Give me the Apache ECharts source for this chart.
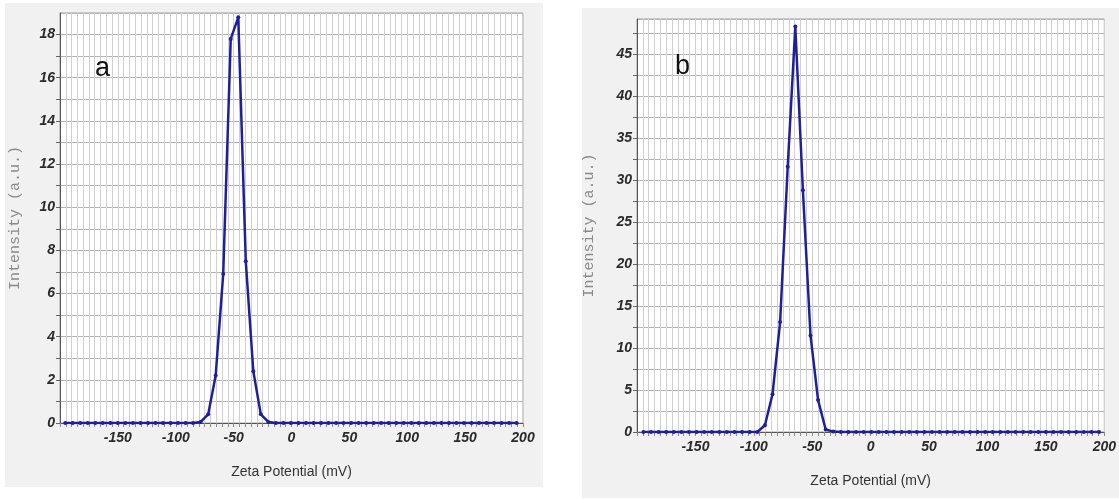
<!DOCTYPE html>
<html>
<head>
<meta charset="utf-8">
<script src="https://cdn.jsdelivr.net/npm/echarts@6/dist/echarts.min.js"></script>
<style>
  html, body { margin: 0; padding: 0; background: #fff; }
  #zeta_chart { width: 1119px; height: 499px; }
</style>
</head>
<body>
<div id="zeta_chart"></div>
<script>
// zeta potential (mV) and intensity (a.u.)
let zetaA = [-195.5, -189, -182.5, -176, -169.5, -163, -156.5, -150, -143.5, -137, -130.5, -124,
    -117.5, -111, -104.5, -98, -91.5, -85, -78.5, -72, -65.5, -59, -52.5, -46, -39.5, -33, -26.5,
    -20, -13.5, -7, -0.5, 6, 12.5, 19, 25.5, 32, 38.5, 45, 51.5, 58, 64.5, 71, 77.5, 84, 90.5, 97,
    103.5, 110, 116.5, 123, 129.5, 136, 142.5, 149, 155.5, 162, 168.5, 175, 181.5, 188, 194.5];
let intensityA = [0, 0, 0, 0, 0, 0, 0, 0, 0, 0, 0, 0,
    0, 0, 0, 0, 0, 0, 0.05, 0.4, 2.2, 6.9, 17.8, 18.8, 7.5, 2.4, 0.4,
    0.05, 0, 0, 0, 0, 0, 0, 0, 0, 0, 0, 0, 0, 0, 0, 0, 0, 0, 0,
    0, 0, 0, 0, 0, 0, 0, 0, 0, 0, 0, 0, 0, 0, 0];

let zetaB = [-194.5, -188, -181.5, -175, -168.5, -162, -155.5, -149, -142.5, -136, -129.5, -123,
    -116.5, -110, -103.5, -97, -90.5, -84, -77.5, -71, -64.5, -58, -51.5, -45, -38.5, -32, -25.5,
    -19, -12.5, -6, 0.5, 7, 13.5, 20, 26.5, 33, 39.5, 46, 52.5, 59, 65.5, 72, 78.5, 85, 91.5, 98,
    104.5, 111, 117.5, 124, 130.5, 137, 143.5, 150, 156.5, 163, 169.5, 176, 182.5, 189, 195.5];
let intensityB = [0, 0, 0, 0, 0, 0, 0, 0, 0, 0, 0, 0,
    0, 0, 0, 0, 0.8, 4.5, 13.1, 31.6, 48.3, 28.8, 11.5, 3.8, 0.3, 0.05, 0,
    0, 0, 0, 0, 0, 0, 0, 0, 0, 0, 0, 0, 0, 0, 0, 0, 0, 0, 0,
    0, 0, 0, 0, 0, 0, 0, 0, 0, 0, 0, 0, 0, 0, 0];

let xTickLabels = [-150, -100, -50, 0, 50, 100, 150, 200];

function pairs(xs, ys) {
    let list = [];
    for (let i = 0; i < xs.length; i++) {
        list.push([xs[i], ys[i]]);
    }
    return list;
}

let lineColor = '#1f1f9e';
let labelFont = {
    color: '#2a2a2a',
    fontFamily: 'Liberation Sans',
    fontStyle: 'italic',
    fontWeight: 'bold',
    fontSize: 14
};

function makeXAxis(gridIndex) {
    return {
        type: 'value',
        gridIndex: gridIndex,
        min: -200,
        max: 200,
        interval: 5,
        name: 'Zeta Potential (mV)',
        nameLocation: 'middle',
        nameGap: 42,
        nameTextStyle: { color: '#333', fontFamily: 'Liberation Sans', fontSize: 14 },
        axisLine: { onZero: false, lineStyle: { color: '#555', width: 1 } },
        axisTick: { length: 4, lineStyle: { color: '#888' } },
        axisLabel: Object.assign({
            margin: 8,
            formatter: function (v) {
                return xTickLabels.indexOf(v) >= 0 ? String(v) : '';
            }
        }, labelFont),
        splitLine: { show: true, lineStyle: { color: '#d0d0d0', width: 1 } }
    };
}

function makeYAxis(gridIndex, max, step, labelStep, gap) {
    return {
        type: 'value',
        gridIndex: gridIndex,
        min: 0,
        max: max,
        interval: step,
        name: 'Intensity (a.u.)',
        nameLocation: 'middle',
        nameGap: gap,
        nameTextStyle: { color: '#8a8a8a', fontFamily: 'Liberation Mono', fontSize: 15 },
        axisLine: { show: true, onZero: false, lineStyle: { color: '#555', width: 1 } },
        axisTick: { show: true, length: 4, lineStyle: { color: '#666' } },
        axisLabel: Object.assign({
            margin: 5,
            showMaxLabel: false,
            formatter: function (v) {
                return (Math.abs(v / labelStep - Math.round(v / labelStep)) < 1e-6) ? String(v) : '';
            }
        }, labelFont),
        splitLine: { show: true, lineStyle: { color: '#b4b4b4', width: 1 } }
    };
}

function makeSeries(index, data) {
    return {
        type: 'line',
        xAxisIndex: index,
        yAxisIndex: index,
        data: data,
        symbol: 'circle',
        symbolSize: 4,
        showSymbol: true,
        color: lineColor,
        lineStyle: { color: lineColor, width: 2.5 },
        itemStyle: { color: lineColor },
        animation: false,
        z: 5
    };
}

var zetaChart = echarts.init(document.getElementById('zeta_chart'));
zetaChart.setOption({
    backgroundColor: '#ffffff',
    animation: false,
    graphic: [
        { type: 'rect', z: -10, shape: { x: 5, y: 3, width: 538, height: 484 }, style: { fill: '#f1f1f1' } },
        { type: 'rect', z: -10, shape: { x: 582, y: 8, width: 537, height: 490 }, style: { fill: '#f1f1f1' } },
        { type: 'text', z: 10, left: 95, top: 55, style: { text: 'a', fontSize: 27, fontFamily: 'Liberation Sans', fill: '#111' } },
        { type: 'text', z: 10, left: 675, top: 53, style: { text: 'b', fontSize: 27, fontFamily: 'Liberation Sans', fill: '#111' } }
    ],
    grid: [
        { left: 60, top: 13, width: 463, height: 410, show: true, backgroundColor: '#fff', borderColor: '#a0a0a0', borderWidth: 1 },
        { left: 637, top: 19, width: 468, height: 413, show: true, backgroundColor: '#fff', borderColor: '#a0a0a0', borderWidth: 1 }
    ],
    xAxis: [makeXAxis(0), makeXAxis(1)],
    yAxis: [makeYAxis(0, 19, 1, 2, 37), makeYAxis(1, 49.2, 2.5, 5, 40)],
    series: [
        makeSeries(0, pairs(zetaA, intensityA)),
        makeSeries(1, pairs(zetaB, intensityB))
    ]
});
</script>
</body>
</html>
